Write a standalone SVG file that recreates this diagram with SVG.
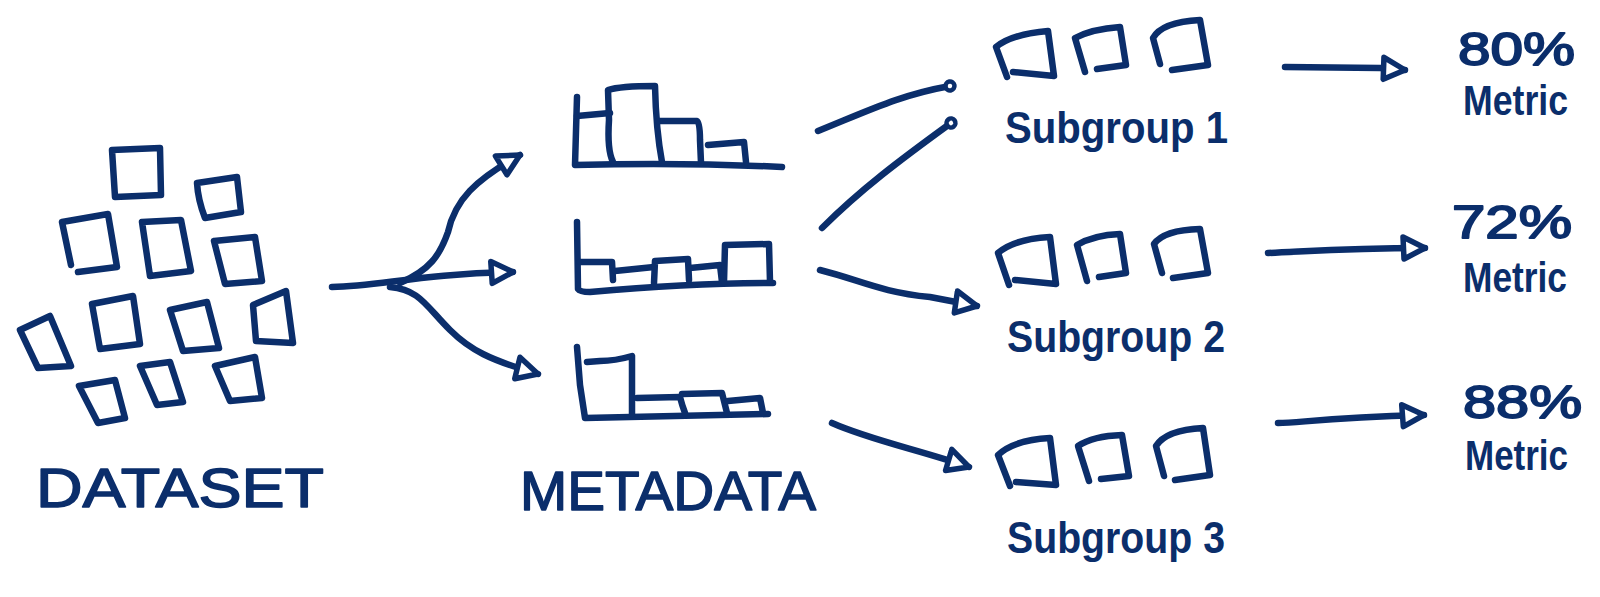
<svg xmlns="http://www.w3.org/2000/svg" width="1600" height="597" viewBox="0 0 1600 597">
<style>
.s{fill:none;stroke:#0b2e6b;stroke-width:6.5;stroke-linecap:round;stroke-linejoin:round}
.t{fill:#0b2e6b;font-family:"Liberation Sans",Arial,sans-serif}
.big{font-size:56px;stroke:#0b2e6b;stroke-width:1.5;stroke-linejoin:round}
.lab{font-size:44px;font-weight:bold}
.met{font-size:42px;font-weight:bold}
.pct{font-size:46px;stroke:#0b2e6b;stroke-width:1.8;stroke-linejoin:round}
</style>
<defs>
<marker id="tri" viewBox="0 0 30 30" refX="25" refY="15" markerWidth="30" markerHeight="30" markerUnits="userSpaceOnUse" orient="auto">
<path d="M3,4 L25,15 L4,26 Z" fill="#fff" stroke="#0b2e6b" stroke-width="5.5" stroke-linejoin="round"/>
</marker>
<marker id="dot" viewBox="0 0 18 18" refX="9" refY="9" markerWidth="18" markerHeight="18" markerUnits="userSpaceOnUse" orient="auto">
<circle cx="9" cy="9" r="4.5" fill="#fff" stroke="#0b2e6b" stroke-width="4.5"/>
</marker>
</defs>
<rect width="1600" height="597" fill="#fff"/>

<g id="dataset">
<path class="s" d="M112,150 L160,148 L161,195 L115,197 Z"/>
<path class="s" d="M197,183 L237,177 L241,212 L205,218 Q198,200 197,183 Z"/>
<path class="s" d="M62,222 L108,214 L117,267 L78,272 M62,222 L71,265"/>
<path class="s" d="M142,222 L181,220 L191,271 L150,276 Z"/>
<path class="s" d="M214,241 L255,237 L262,281 L225,284 Z"/>
<path class="s" d="M20,330 L50,316 L71,366 L38,368 Z"/>
<path class="s" d="M92,304 L133,296 L140,344 L100,349 Z"/>
<path class="s" d="M170,310 L207,302 L219,348 L183,351 Z"/>
<path class="s" d="M253,305 L286,291 L293,343 L256,341 Z"/>
<path class="s" d="M79,386 L115,380 L125,418 L98,423 Z"/>
<path class="s" d="M140,366 L170,362 L183,402 L157,405 Z"/>
<path class="s" d="M215,366 L255,357 L262,398 L230,401 Z"/>
<text class="t big" x="36" y="507" textLength="288" lengthAdjust="spacingAndGlyphs">DATASET</text>
</g>

<g id="metadata">
<path class="s" d="M577,97 L575,165 Q680,162 782,167"/>
<path class="s" d="M577,116 L610,113"/>
<path class="s" d="M613,162 Q607,150 609,120 L608,90 Q620,86 655,86 Q656,130 662,162"/>
<path class="s" d="M658,121 L697,121 Q700,122 700,140 L701,163"/>
<path class="s" d="M708,145 L744,142 L746,162"/>

<path class="s" d="M577,222 L578,289 Q580,292 590,292 Q690,283 773,283"/>
<path class="s" d="M580,262 L612,262 L613,280"/>
<path class="s" d="M615,271 L654,267"/>
<path class="s" d="M654,283 L655,261 L688,259 L689,280"/>
<path class="s" d="M690,268 L720,265 L722,282"/>
<path class="s" d="M724,282 L725,245 L769,244 L770,282"/>

<path class="s" d="M577,347 L580,385 L585,418 Q680,416 768,414"/>
<path class="s" d="M587,362 L600,361 Q615,361 632,356 L632,414"/>
<path class="s" d="M637,398 L680,397 Q682,405 685,413"/>
<path class="s" d="M682,394 L722,393 L727,413"/>
<path class="s" d="M728,401 L760,398 L763,413"/>
<text class="t big" x="520" y="510" textLength="296" lengthAdjust="spacingAndGlyphs">METADATA</text>
</g>

<g id="subgroup1">
<path class="s" d="M1007,77 L996,47 Q1012,34 1048,31 L1054,76 L1013,72"/>
<path class="s" d="M1085,72 L1075,38 Q1092,29 1120,27 L1126,65 L1097,69"/>
<path class="s" d="M1160,64 L1153,38 Q1162,22 1200,20 L1208,65 L1172,70"/>
<text class="t lab" x="1005" y="143" textLength="223" lengthAdjust="spacingAndGlyphs">Subgroup 1</text>
</g>
<g id="subgroup2">
<path class="s" d="M1009,285 L998,253 Q1014,239 1050,237 L1056,284 L1015,280"/>
<path class="s" d="M1087,281 L1077,245 Q1094,235 1120,234 L1126,273 L1099,277"/>
<path class="s" d="M1162,273 L1154,244 Q1164,230 1200,229 L1208,273 L1173,278"/>
<text class="t lab" x="1007" y="352" textLength="218" lengthAdjust="spacingAndGlyphs">Subgroup 2</text>
</g>
<g id="subgroup3">
<path class="s" d="M1010,486 L998,455 Q1014,440 1050,438 L1056,485 L1016,482"/>
<path class="s" d="M1089,481 L1078,446 Q1093,436 1122,435 L1129,476 L1101,479"/>
<path class="s" d="M1164,476 L1156,446 Q1166,430 1203,428 L1210,475 L1175,480"/>
<text class="t lab" x="1007" y="553" textLength="218" lengthAdjust="spacingAndGlyphs">Subgroup 3</text>
</g>

<g id="metric1">
<text class="t pct" x="1458" y="65" textLength="117" lengthAdjust="spacingAndGlyphs">80%</text>
<text class="t met" x="1463" y="115" textLength="105" lengthAdjust="spacingAndGlyphs">Metric</text>
</g>
<g id="metric2">
<text class="t pct" x="1452" y="238" textLength="120" lengthAdjust="spacingAndGlyphs">72%</text>
<text class="t met" x="1463" y="292" textLength="104" lengthAdjust="spacingAndGlyphs">Metric</text>
</g>
<g id="metric3">
<text class="t pct" x="1463" y="418" textLength="119" lengthAdjust="spacingAndGlyphs">88%</text>
<text class="t met" x="1465" y="470" textLength="103" lengthAdjust="spacingAndGlyphs">Metric</text>
</g>

<g id="connectors">
<path class="s" d="M332,287 C380,286 420,274 513,272" marker-end="url(#tri)"/>
<path class="s" d="M400,283 C430,270 440,255 448,232 C455,200 475,180 520,155" marker-end="url(#tri)"/>
<path class="s" d="M390,287 C420,290 425,305 450,330 C470,350 490,360 538,374" marker-end="url(#tri)"/>
<path class="s" d="M818,131 C870,110 900,95 950,86" marker-end="url(#dot)"/>
<path class="s" d="M822,228 C860,190 900,160 951,123" marker-end="url(#dot)"/>
<path class="s" d="M820,270 C860,280 880,292 930,297 L977,306" marker-end="url(#tri)"/>
<path class="s" d="M832,423 C870,440 920,450 969,467" marker-end="url(#tri)"/>
<path class="s" d="M1285,67 L1380,68 L1405,70" marker-end="url(#tri)"/>
<path class="s" d="M1268,253 C1300,252 1340,248 1425,248" marker-end="url(#tri)"/>
<path class="s" d="M1278,423 C1300,423 1320,418 1424,415" marker-end="url(#tri)"/>
</g>
</svg>
